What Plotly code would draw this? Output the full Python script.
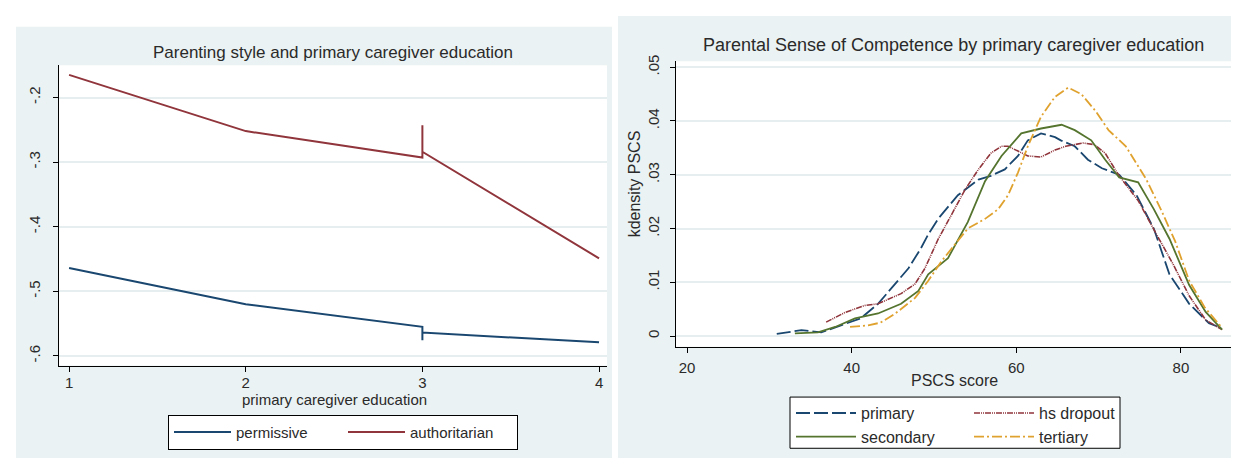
import plotly.graph_objects as go

# ---------------- data ----------------
# Left panel: parenting style vs primary caregiver education
edu_level = [1, 2, 3, 3, 3, 4]
permissive = [-0.464, -0.520, -0.555, -0.576, -0.564, -0.579]
authoritarian = [-0.165, -0.252, -0.293, -0.243, -0.284, -0.449]

left_x_ticks = [1, 2, 3, 4]
left_y_ticks = [-0.6, -0.5, -0.4, -0.3, -0.2]
left_y_ticklabels = ["-.6", "-.5", "-.4", "-.3", "-.2"]

# Right panel: kernel density of PSCS score by education
primary_x = [30.9, 33.9, 36.3, 38.7, 41.1, 43.2, 45.3, 46.9, 48.4, 49.3, 50.5, 52.9, 55.4, 56.9, 58.6,
             60.2, 61.4, 63.0, 64.7, 65.4, 67.1, 68.7, 70.4, 72.5, 74.6, 76.7, 78.6, 81.0, 83.4, 84.9]
primary_y = [.0004, .0011, .0007, .0020, .0033, .0060, .0097, .0126, .0163, .0189, .0218, .0262, .0291, .0298, .0310,
             .0335, .0364, .0377, .0370, .0364, .0353, .0328, .0312, .0300, .0262, .0200, .0115, .0060, .0024, .0015]

hsdrop_x = [36.9, 39.2, 41.6, 43.2, 46.0, 47.7, 48.9, 50.5, 52.1, 53.8, 55.4, 56.9, 58.2, 59.0, 60.2,
            61.4, 63.0, 64.7, 66.0, 68.1, 69.5, 70.8, 72.4, 74.8, 77.0, 79.0, 81.0, 83.0, 85.0]
hsdrop_y = [.0026, .0044, .0057, .0060, .0079, .0097, .0126, .0180, .0225, .0273, .0310, .0340, .0353, .0353, .0344,
            .0335, .0333, .0346, .0353, .0359, .0356, .0340, .0300, .0252, .0190, .0135, .0075, .0030, .0012]

secondary_x = [33.1, 35.9, 38.0, 40.4, 43.2, 46.0, 48.1, 49.3, 51.7, 54.1, 56.2, 58.2, 60.6, 63.0, 65.5,
               67.1, 69.1, 70.8, 72.5, 74.8, 76.7, 78.6, 81.0, 83.0, 85.0]
secondary_y = [.0005, .0007, .0017, .0033, .0042, .0060, .0084, .0115, .0145, .0212, .0288, .0335, .0377, .0386, .0393,
               .0383, .0364, .0328, .0295, .0286, .0236, .0181, .0095, .0045, .0012]

tertiary_x = [39.8, 42.0, 43.5, 45.3, 47.7, 49.3, 50.9, 52.9, 54.1, 56.2, 57.8, 59.0, 60.2, 61.4, 63.0,
              64.7, 66.3, 67.9, 69.6, 71.2, 73.3, 75.8, 77.7, 79.3, 81.0, 82.9, 84.9]
tertiary_y = [.0017, .0020, .0025, .0042, .0071, .0103, .0139, .0176, .0200, .0218, .0236, .0262, .0304, .0353, .0408,
              .0445, .0462, .0450, .0419, .0383, .0353, .0291, .0231, .0176, .0103, .0053, .0017]

right_x_ticks = [20, 40, 60, 80]
right_y_ticks = [0, 0.01, 0.02, 0.03, 0.04, 0.05]
right_y_ticklabels = ["0", ".01", ".02", ".03", ".04", ".05"]

# ---------------- styling ----------------
W, H = 1239, 458
FONT = "Liberation Sans, Arial, sans-serif"
TXT = "#2a2a2a"
BG = "#EAF2F3"
GRID = "#E6EEF0"
NAVY, MAROON, GREEN, GOLD = "#1A476F", "#90353B", "#55752F", "#E0A22F"


def px(x):
    return x / W


def py(y):
    return (H - y) / H


fig = go.Figure()

fig.add_trace(go.Scatter(x=edu_level, y=permissive, mode="lines", name="permissive",
                         line=dict(color=NAVY, width=2), xaxis="x", yaxis="y", legend="legend"))
fig.add_trace(go.Scatter(x=edu_level, y=authoritarian, mode="lines", name="authoritarian",
                         line=dict(color=MAROON, width=2), xaxis="x", yaxis="y", legend="legend"))

fig.add_trace(go.Scatter(x=primary_x, y=primary_y, mode="lines", name="primary",
                         line=dict(color=NAVY, width=1.8, dash="14px,4px"), xaxis="x2", yaxis="y2",
                         legend="legend2"))
fig.add_trace(go.Scatter(x=hsdrop_x, y=hsdrop_y, mode="lines", name="hs dropout",
                         line=dict(color=MAROON, width=1.6, dash="6px,1px,1px,1px,1px,1px"),
                         xaxis="x2", yaxis="y2", legend="legend2"))
fig.add_trace(go.Scatter(x=secondary_x, y=secondary_y, mode="lines", name="secondary",
                         line=dict(color=GREEN, width=1.8), xaxis="x2", yaxis="y2", legend="legend3"))
fig.add_trace(go.Scatter(x=tertiary_x, y=tertiary_y, mode="lines", name="tertiary",
                         line=dict(color=GOLD, width=1.8, dash="10px,3px,2px,3px"), xaxis="x2", yaxis="y2",
                         legend="legend3"))

# plot-area pixel boxes
L = dict(x0=51, x1=599, y0=51, y1=356)
R = dict(x0=668, x1=1224, y0=47, y1=337)

axis_common = dict(showline=True, linecolor="black", linewidth=1, ticks="outside", ticklen=5,
                   tickcolor="black", zeroline=False)
tick_font = dict(family=FONT, size=15, color=TXT)

fig.update_layout(
    width=W, height=H,
    margin=dict(l=0, r=0, t=0, b=0),
    paper_bgcolor="white", plot_bgcolor="white",
    showlegend=True,
    font=dict(family=FONT, color=TXT),
    xaxis=dict(domain=[px(L["x0"]), px(L["x1"])], anchor="y", range=[0.943, 4.045],
               tickvals=left_x_ticks, showgrid=False, tickfont=tick_font, ticklabelstandoff=-2,
               **axis_common),
    yaxis=dict(domain=[py(L["y1"]), py(L["y0"])], anchor="x", range=[-0.615, -0.15],
               tickvals=left_y_ticks, ticktext=left_y_ticklabels, tickangle=-90, tickfont=tick_font,
               ticklabelstandoff=7,
               showgrid=True, gridcolor=GRID, gridwidth=1.5, **axis_common),
    xaxis2=dict(domain=[px(R["x0"]), px(R["x1"])], anchor="y2", range=[18.66, 86.2],
                tickvals=right_x_ticks, showgrid=False, ticklabelstandoff=2, tickfont=tick_font,
                **axis_common),
    yaxis2=dict(domain=[py(R["y1"]), py(R["y0"])], anchor="x2", range=[-0.002, 0.0511],
                tickvals=right_y_ticks, ticktext=right_y_ticklabels, tickangle=-90, tickfont=tick_font,
                ticklabelstandoff=5,
                showgrid=True, gridcolor=GRID, gridwidth=1.5, **axis_common),
    legend=dict(orientation="h", x=px(160), y=py(406), xanchor="left", yanchor="top",
                bgcolor="white", bordercolor="black", borderwidth=1, entrywidth=102, itemwidth=57,
                font=dict(family=FONT, size=15, color=TXT)),
    legend2=dict(orientation="h", x=px(783), y=py(387), xanchor="left", yanchor="top",
                 bgcolor="rgba(0,0,0,0)", borderwidth=0, entrywidth=103, itemwidth=60,
                 font=dict(family=FONT, size=16, color=TXT)),
    legend3=dict(orientation="h", x=px(783), y=py(411), xanchor="left", yanchor="top",
                 bgcolor="rgba(0,0,0,0)", borderwidth=0, entrywidth=103, itemwidth=60,
                 font=dict(family=FONT, size=16, color=TXT)),
)

# panel backgrounds and plot regions
shapes = [
    dict(type="rect", xref="paper", yref="paper", x0=px(8), x1=px(604), y0=py(450), y1=py(12),
         fillcolor=BG, line=dict(width=0), layer="below"),
    dict(type="rect", xref="paper", yref="paper", x0=px(610), x1=px(1228), y0=py(458), y1=py(1),
         fillcolor=BG, line=dict(width=0), layer="below"),
    dict(type="rect", xref="paper", yref="paper", x0=px(L["x0"]), x1=px(L["x1"]), y0=py(L["y1"]), y1=py(L["y0"]),
         fillcolor="white", line=dict(width=0), layer="below"),
    dict(type="rect", xref="paper", yref="paper", x0=px(R["x0"]), x1=px(R["x1"]), y0=py(R["y1"]), y1=py(R["y0"]),
         fillcolor="white", line=dict(width=0), layer="below"),
    dict(type="rect", xref="paper", yref="paper", x0=px(782), x1=px(1112), y0=py(440), y1=py(388),
         fillcolor="white", line=dict(width=1, color="black"), layer="below"),
]
fig.update_layout(shapes=shapes)

ann = [
    dict(text="Parenting style and primary caregiver education", x=px(325), y=py(38), size=17),
    dict(text="Parental Sense of Competence by primary caregiver education", x=px(945), y=py(30), size=18),
    dict(text="primary caregiver education", x=px(326), y=py(390), size=15),
    dict(text="PSCS score", x=px(946), y=py(371), size=16),
]
for a in ann:
    fig.add_annotation(text=a["text"], x=a["x"], y=a["y"], xref="paper", yref="paper",
                       xanchor="center", yanchor="middle", showarrow=False,
                       font=dict(family=FONT, size=a["size"], color=TXT))
fig.add_annotation(text="kdensity PSCS", x=px(626), y=py(172), xref="paper", yref="paper",
                   xanchor="center", yanchor="middle", showarrow=False, textangle=-90,
                   font=dict(family=FONT, size=16, color=TXT))

fig.write_html("out.html")
